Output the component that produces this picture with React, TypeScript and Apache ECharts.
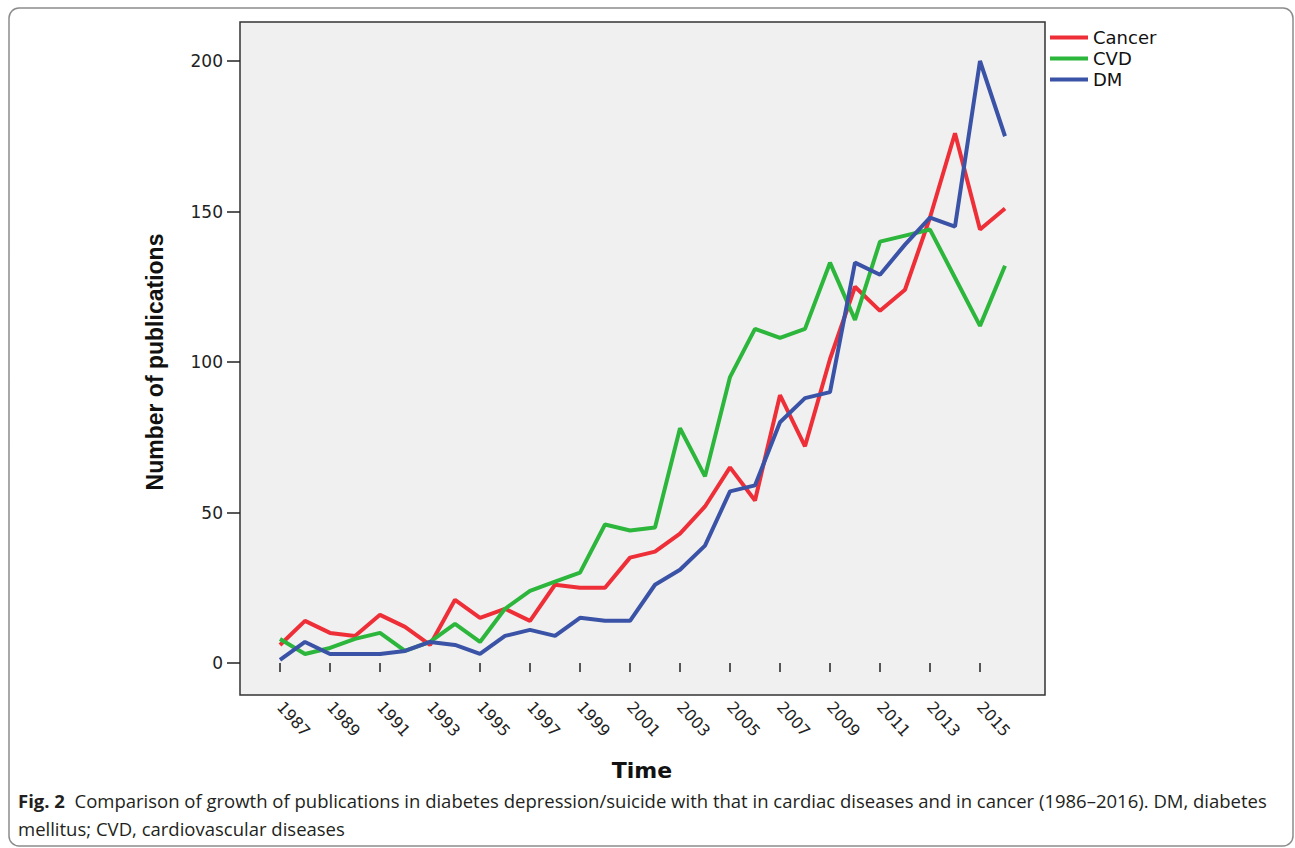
import React, { useEffect, useRef } from "react";
import * as echarts from "echarts";

const years = [1987,1988,1989,1990,1991,1992,1993,1994,1995,1996,1997,1998,1999,2000,2001,2002,2003,2004,2005,2006,2007,2008,2009,2010,2011,2012,2013,2014,2015,2016];
const cancer = [6,14,10,9,16,12,6,21,15,18,14,26,25,25,35,37,43,52,65,54,89,72,101,125,117,124,148,176,144,151];
const cvd = [8,3,5,8,10,4,7,13,7,18,24,27,30,46,44,45,78,62,95,111,108,111,133,114,140,142,144,128,112,132];
const dm = [1,7,3,3,3,4,7,6,3,9,11,9,15,14,14,26,31,39,57,59,80,88,90,133,129,139,148,145,200,175];
const seriesNames = ["Cancer", "CVD", "DM"];
const seriesColors = ["#ee2f38", "#2db63c", "#3a53a6"];
const yTicks = { min: 0, max: 200, interval: 50 };

const captionLine1 = "  Comparison of growth of publications in diabetes depression/suicide with that in cardiac diseases and in cancer (1986–2016). DM, diabetes";
const captionLine2 = "mellitus; CVD, cardiovascular diseases";

export default function App() {
  const ref = useRef<HTMLDivElement>(null);
  useEffect(() => {
    if (!ref.current) return;
    const chart = echarts.init(ref.current, undefined, { renderer: "svg" });
    const values = [cancer, cvd, dm];
    chart.setOption({
      animation: false,
      backgroundColor: "#ffffff",
      grid: [
        { left: 280, right: 290, top: 61, bottom: 185 },
        { left: 240, right: 250, top: 22, bottom: 153, show: true, backgroundColor: "#f0f0f0", borderColor: "#333333", borderWidth: 1.5, z: 0 },
      ],
      xAxis: [
        {
          type: "category",
          gridIndex: 0,
          data: years.map(String),
          boundaryGap: false,
          offset: 32,
          axisLine: { show: false },
          axisTick: { show: true, interval: 1, length: 9, lineStyle: { color: "#222", width: 1.5 } },
          axisLabel: { interval: 1, rotate: -48, margin: 9, fontFamily: "DejaVu Sans", fontSize: 16, color: "#222" },
          splitLine: { show: false },
        },
        { type: "value", gridIndex: 1, show: false, min: 0, max: 1 },
      ],
      yAxis: [
        {
          type: "value",
          gridIndex: 0,
          min: yTicks.min,
          max: yTicks.max,
          interval: yTicks.interval,
          offset: 40,
          axisLine: { show: false },
          axisTick: { show: true, length: 13, lineStyle: { color: "#222", width: 1.5 } },
          axisLabel: { margin: 17, fontFamily: "DejaVu Sans", fontSize: 17, color: "#222" },
          splitLine: { show: false },
        },
        { type: "value", gridIndex: 1, show: false, min: 0, max: 1 },
      ],
      legend: {
        orient: "vertical",
        left: 1045,
        top: 22,
        itemWidth: 38,
        itemHeight: 4,
        itemGap: 0,
        icon: "path://M0,0H40V4H0Z",
        textStyle: { fontFamily: "DejaVu Sans", fontSize: 18, color: "#111", lineHeight: 21 },
        data: seriesNames,
      },
      series: seriesNames.map((name, i) => ({
        name,
        type: "line",
        xAxisIndex: 0,
        yAxisIndex: 0,
        data: values[i],
        showSymbol: false,
        symbol: "none",
        color: seriesColors[i],
        lineStyle: { width: 4, color: seriesColors[i] },
        z: 3 + i,
      })),
      graphic: [
        {
          type: "rect",
          shape: { x: 9, y: 8, width: 1284, height: 838, r: 10 },
          style: { fill: "none", stroke: "#8c8c8c", lineWidth: 1.5 },
          silent: true,
        },
        {
          type: "text",
          x: 155,
          y: 362,
          rotation: Math.PI / 2,
          style: { text: "Number of publications", fontFamily: "Liberation Sans", fontWeight: "bold", fontSize: 23, fill: "#111", align: "center", verticalAlign: "middle" },
        },
        {
          type: "text",
          x: 642,
          y: 770,
          style: { text: "Time", fontFamily: "DejaVu Sans", fontWeight: "bold", fontSize: 22, fill: "#111", align: "center", verticalAlign: "middle" },
        },
        {
          type: "text",
          x: 18,
          y: 800,
          style: {
            text: "{b|Fig. 2}" + captionLine1,
            rich: { b: { fontWeight: "bold", fontFamily: "Open Sans", fontSize: 18.5, fill: "#231f20" } },
            fontFamily: "Open Sans",
            fontSize: 18.5,
            fill: "#231f20",
            verticalAlign: "middle",
          },
        },
        {
          type: "text",
          x: 18,
          y: 828,
          style: { text: captionLine2, fontFamily: "Open Sans", fontSize: 18.5, fill: "#231f20", verticalAlign: "middle" },
        },
      ],
    });
    return () => chart.dispose();
  }, []);
  return <div ref={ref} style={{ position: "absolute", left: 0, top: 0, width: 1295, height: 848 }} />;
}
